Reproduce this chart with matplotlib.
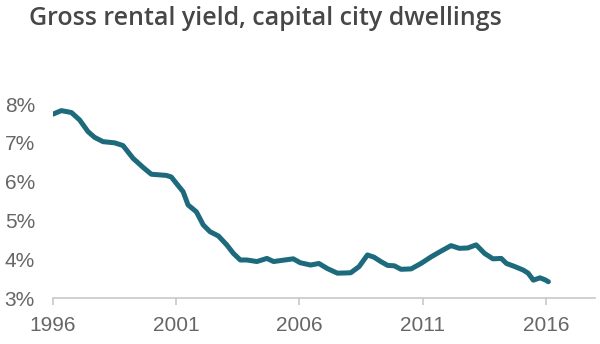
import matplotlib.pyplot as plt

years = [1996.0, 1996.34, 1996.75, 1997.08, 1997.42, 1997.69, 1998.03, 1998.5,
         1998.84, 1999.25, 1999.65, 1999.99, 2000.6, 2000.8, 2001.0, 2001.28,
         2001.48, 2001.82, 2002.1, 2002.37, 2002.71, 2003.05, 2003.32, 2003.6,
         2003.87, 2004.27, 2004.68, 2004.95, 2005.63, 2005.75, 2006.03, 2006.45,
         2006.79, 2007.13, 2007.54, 2008.08, 2008.42, 2008.76, 2009.03, 2009.3,
         2009.58, 2009.85, 2010.12, 2010.53, 2010.93, 2011.34, 2011.75, 2012.15,
         2012.49, 2012.83, 2013.17, 2013.51, 2013.85, 2014.19, 2014.4, 2014.74,
         2015.08, 2015.28, 2015.49, 2015.76, 2015.96, 2016.1]
yield_pct = [7.74, 7.83, 7.78, 7.59, 7.29, 7.14, 7.03, 7.0,
             6.93, 6.60, 6.37, 6.19, 6.16, 6.12, 5.96, 5.74,
             5.40, 5.22, 4.88, 4.71, 4.60, 4.37, 4.15, 3.98,
             3.98, 3.94, 4.02, 3.94, 4.00, 4.01, 3.91, 3.85,
             3.89, 3.76, 3.64, 3.65, 3.81, 4.11, 4.05, 3.94,
             3.84, 3.83, 3.74, 3.75, 3.89, 4.06, 4.21, 4.35,
             4.28, 4.29, 4.37, 4.15, 4.01, 4.02, 3.89, 3.81,
             3.72, 3.64, 3.46, 3.52, 3.47, 3.42]
x_ticks = [1996, 2001, 2006, 2011, 2016]
y_ticks = [3, 4, 5, 6, 7, 8]

fig = plt.figure(figsize=(6, 3.44), dpi=100)
ax = fig.add_axes([0.0883, 0.1337, 0.9037, 0.6203])

ax.plot(years, yield_pct, color="#1c6a7c", lw=3.6, solid_joinstyle="round",
        solid_capstyle="round")

ax.set_xlim(1996, 2018)
ax.set_ylim(3, 8.5)
ax.set_xticks(x_ticks)
ax.set_xticklabels([str(y) for y in x_ticks])
ax.set_yticks(y_ticks)
ax.set_yticklabels([f"{v}%" for v in y_ticks])

for s in ["top", "right", "left"]:
    ax.spines[s].set_visible(False)
ax.spines["bottom"].set_color("#c8c8c8")
ax.spines["bottom"].set_linewidth(1.2)
ax.tick_params(axis="x", colors="#c8c8c8", length=5, width=1.2, pad=8,
               labelcolor="#666666", labelsize=15)
ax.tick_params(axis="y", length=0, pad=13, labelcolor="#666666", labelsize=15)
for lab in ax.get_xticklabels() + ax.get_yticklabels():
    lab.set_family("Liberation Sans")

fig.text(0.443, 0.947, "Gross rental yield, capital city dwellings",
         ha="center", va="center", fontsize=18, color="#474747",
         family="Open Sans", weight="semibold")

fig.savefig("out.png", dpi=100)
